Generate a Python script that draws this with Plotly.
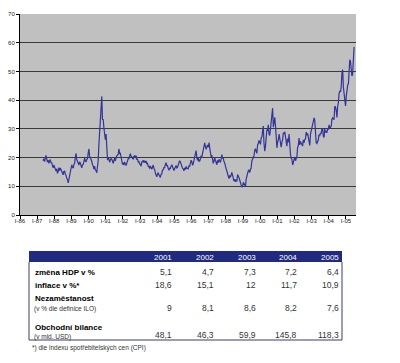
import plotly.graph_objects as go
import pandas as pd

# ---------------- data: oil price (USD/bbl), two readings per month ----------------
start_month = "1987-05"
price_values = [
    # 1987 May-Dec
    18.9, 19.6, 18.6, 19.4, 20.8, 19.6, 18.4, 19.1, 18.0, 18.8, 19.3, 18.2, 18.2, 17.2, 16.4, 17.4,
    # 1988
    16.9, 16.0, 15.3, 16.1, 14.5, 15.1, 16.5, 15.5, 16.4, 15.6, 15.5, 14.6,
    14.0, 15.1, 15.4, 14.2, 13.8, 12.7, 12.4, 11.2, 12.8, 13.2, 15.0, 16.4,
    # 1989
    17.5, 16.6, 16.3, 17.6, 18.0, 20.0, 21.5, 19.3, 18.6, 17.9, 17.4, 18.5,
    18.1, 17.2, 16.4, 17.4, 17.6, 18.6, 19.8, 18.8, 18.5, 19.4, 19.6, 21.6,
    # 1990
    23.0, 20.1, 20.1, 19.2, 18.8, 17.6, 17.1, 16.0, 17.0, 15.7, 15.5, 14.7,
    16.4, 18.8, 24.5, 29.5, 33.0, 38.8, 41.3, 33.3, 33.2, 30.2, 28.8, 26.2,
    # 1991
    28.2, 20.0, 19.1, 20.0, 19.6, 18.4, 19.2, 19.7, 19.5, 18.7, 18.0, 18.9,
    19.8, 18.9, 20.0, 20.6, 20.8, 21.2, 23.0, 21.4, 21.5, 20.0, 19.1, 17.6,
    # 1992
    18.2, 17.4, 18.5, 17.8, 17.2, 18.0, 19.1, 19.6, 19.6, 20.5, 21.4, 20.4,
    20.3, 19.7, 19.5, 20.4, 20.6, 19.8, 20.7, 19.4, 19.4, 18.5, 18.6, 17.7,
    # 1993
    17.7, 17.0, 18.7, 18.4, 19.1, 18.3, 18.9, 18.2, 18.8, 17.9, 18.0, 16.9,
    16.9, 16.2, 17.1, 16.4, 16.0, 16.7, 17.4, 16.2, 15.8, 14.5, 14.1, 13.3,
    # 1994
    14.5, 14.6, 13.9, 13.2, 13.1, 14.1, 14.4, 15.6, 15.7, 16.5, 16.5, 17.6,
    18.2, 17.2, 17.2, 16.2, 15.6, 16.3, 16.2, 17.0, 17.5, 16.8, 16.1, 15.5,
    # 1995
    16.2, 16.5, 17.2, 16.4, 16.6, 17.4, 18.0, 18.9, 18.5, 17.4, 17.2, 16.3,
    16.1, 15.4, 16.4, 15.8, 16.9, 16.2, 16.3, 16.1, 17.1, 17.0, 18.0, 19.1,
    # 1996
    18.6, 17.3, 18.0, 19.2, 19.6, 21.8, 22.4, 20.1, 19.0, 19.9, 18.7, 18.8,
    19.6, 20.5, 20.3, 21.5, 22.6, 23.8, 25.1, 23.8, 22.9, 23.8, 24.4, 23.6,
    # 1997
    25.2, 23.3, 21.6, 20.1, 20.9, 19.6, 18.0, 18.8, 19.9, 19.1, 18.2, 17.5,
    19.0, 18.2, 19.4, 18.5, 18.3, 19.5, 21.0, 19.8, 19.7, 18.5, 18.1, 17.0,
    # 1998
    16.1, 14.9, 14.7, 13.7, 12.7, 13.8, 13.1, 13.9, 14.8, 13.9, 12.6, 11.8,
    12.5, 11.6, 12.3, 11.7, 14.1, 13.0, 13.0, 12.2, 11.6, 10.4, 9.7, 10.1,
    # 1999
    11.4, 10.7, 10.7, 9.9, 12.4, 13.4, 15.2, 15.4, 15.7, 14.8, 15.9, 16.3,
    18.8, 19.4, 20.3, 20.6, 22.6, 23.1, 22.2, 21.5, 24.4, 24.9, 26.0, 24.8,
    # 2000
    24.6, 26.8, 27.2, 29.4, 31.0, 25.0, 22.2, 23.8, 26.1, 29.8, 29.4, 31.4,
    28.1, 27.7, 30.0, 32.8, 34.0, 37.2, 30.6, 33.0, 34.0, 31.0, 27.6, 23.4,
    # 2001
    25.4, 26.2, 28.2, 26.8, 25.6, 23.6, 25.4, 26.2, 28.6, 28.4, 29.0, 26.5,
    25.2, 24.0, 26.6, 25.4, 28.2, 22.0, 21.1, 19.8, 19.4, 17.4, 18.8, 19.0,
    # 2002
    20.2, 18.9, 20.4, 20.5, 23.5, 24.1, 26.8, 24.4, 25.6, 25.2, 24.4, 24.0,
    26.2, 25.1, 26.3, 26.5, 28.9, 27.8, 28.4, 26.3, 24.4, 24.2, 28.2, 29.1,
    # 2003
    30.8, 31.2, 32.9, 33.8, 33.2, 26.1, 25.2, 24.9, 25.5, 26.2, 28.0, 27.5,
    28.6, 28.2, 30.2, 30.0, 27.4, 27.0, 30.2, 28.8, 29.1, 28.7, 30.0, 29.9,
    # 2004
    31.4, 30.2, 30.6, 31.0, 33.4, 33.8, 33.4, 33.4, 37.9, 37.6, 36.4, 34.0,
    37.8, 39.0, 42.4, 43.2, 42.9, 44.8, 49.4, 50.6, 44.4, 42.1, 40.0, 38.0,
    # 2005 Jan-Jun
    41.4, 44.1, 45.4, 45.8, 51.9, 54.1, 53.4, 51.1, 48.4, 49.1, 53.9, 58.5,
]

tick_years = list(range(1986, 2006))
tick_labels = ["I-%02d" % (y % 100) for y in tick_years]
y_ticks = [0, 10, 20, 30, 40, 50, 60, 70]

# table data
table_years = ["2001", "2002", "2003", "2004", "2005"]
row_labels = ["změna HDP v %", "inflace v %*", "Nezaměstanost", "Obchodní bilance"]
row_sublabels = ["", "", "(v % dle definice ILO)", "(v mld. USD)"]
gdp_change = ["5,1", "4,7", "7,3", "7,2", "6,4"]
inflation = ["18,6", "15,1", "12", "11,7", "10,9"]
unemployment = ["9", "8,1", "8,6", "8,2", "7,6"]
trade_balance = ["48,1", "46,3", "59,9", "145,8", "118,3"]
footnote = "*) dle indexu spotřebitelských cen (CPI)"

# ---------------- build dates ----------------
months = pd.period_range(start=start_month, periods=len(price_values) // 2, freq="M")
dates = []
for m in months:
    dates.append(pd.Timestamp(year=m.year, month=m.month, day=8))
    dates.append(pd.Timestamp(year=m.year, month=m.month, day=23))

W, H = 400, 363
def px(x):
    return x / W
def py(y):
    return 1 - y / H

fig = go.Figure()
fig.add_trace(go.Scatter(
    x=dates, y=price_values, mode="lines",
    line=dict(color="#333399", width=1.2),
    hoverinfo="skip", showlegend=False,
))

FONT = "Liberation Sans, Arial, sans-serif"

fig.update_layout(
    template="none",
    width=W, height=H,
    margin=dict(l=0, r=0, t=0, b=0, pad=0),
    paper_bgcolor="white",
    plot_bgcolor="#c0c0c0",
    font=dict(family=FONT, color="#000"),
    showlegend=False,
    xaxis=dict(
        type="date",
        automargin=False,
        domain=[px(12), px(348)],
        range=["1986-01-01", "2005-08-03"],
        tickmode="array",
        tickvals=[pd.Timestamp(year=y, month=1, day=1) for y in tick_years],
        ticktext=tick_labels,
        tickfont=dict(size=6, color="#222"),
        ticks="outside", ticklen=3, tickcolor="#000", tickwidth=1,
        ticklabelstandoff=-3,
        showline=True, linecolor="#000", linewidth=1,
        showgrid=False, zeroline=False, fixedrange=True,
    ),
    yaxis=dict(
        automargin=False,
        domain=[py(207), py(6)],
        range=[0, 70],
        tickmode="array", tickvals=y_ticks,
        tickfont=dict(size=6, color="#222"),
        ticks="outside", ticklen=3, tickcolor="#000", tickwidth=1,
        showline=True, linecolor="#000", linewidth=1,
        showgrid=True, gridcolor="#3a3a3a", gridwidth=1.4,
        zeroline=False, fixedrange=True,
    ),
)

# ---------------- table ----------------
tbl_left, tbl_right = 21, 334
hdr_top, hdr_bot = 243, 254
tbl_bot = 332
col_right = [166, 208, 250, 291, 333]
label_x = 25

shapes = [
    dict(type="rect", xref="paper", yref="paper", x0=px(tbl_left), x1=px(tbl_right),
         y0=py(hdr_bot), y1=py(hdr_top), fillcolor="#1f2a80", line=dict(width=0)),
    dict(type="path", xref="paper", yref="paper",
         path="M %f %f L %f %f L %f %f L %f %f" % (
             px(tbl_left), py(hdr_bot), px(tbl_left), py(tbl_bot),
             px(tbl_right), py(tbl_bot), px(tbl_right), py(hdr_bot)),
         line=dict(color="#3a3a66", width=1)),
]
fig.update_layout(shapes=shapes)

ann = []
for j, yr in enumerate(table_years):
    ann.append(dict(x=px(col_right[j]), y=py(249), text=yr, xanchor="right", yanchor="middle",
                    font=dict(size=8, color="white", family=FONT)))

label_y = [264, 277, 290, 319]
sub_y = [None, None, 301, 329]
value_y = [264, 277, 300, 327]
rows_values = [gdp_change, inflation, unemployment, trade_balance]
for i, lab in enumerate(row_labels):
    ann.append(dict(x=px(label_x), y=py(label_y[i]), text="<b>%s</b>" % lab,
                    xanchor="left", yanchor="middle",
                    font=dict(size=8, color="#000", family=FONT)))
    if row_sublabels[i]:
        ann.append(dict(x=px(label_x - 1), y=py(sub_y[i]), text=row_sublabels[i],
                        xanchor="left", yanchor="middle",
                        font=dict(size=6.5, color="#333", family=FONT)))
    for j, v in enumerate(rows_values[i]):
        ann.append(dict(x=px(col_right[j]), y=py(value_y[i]), text=v,
                        xanchor="right", yanchor="middle",
                        font=dict(size=8.5, color="#333", family=FONT)))

ann.append(dict(x=px(22), y=py(340), text=footnote, xanchor="left", yanchor="middle",
                font=dict(size=6.5, color="#333", family=FONT)))

for a in ann:
    a.update(xref="paper", yref="paper", showarrow=False)
fig.update_layout(annotations=ann)

fig.write_html("out.html")
